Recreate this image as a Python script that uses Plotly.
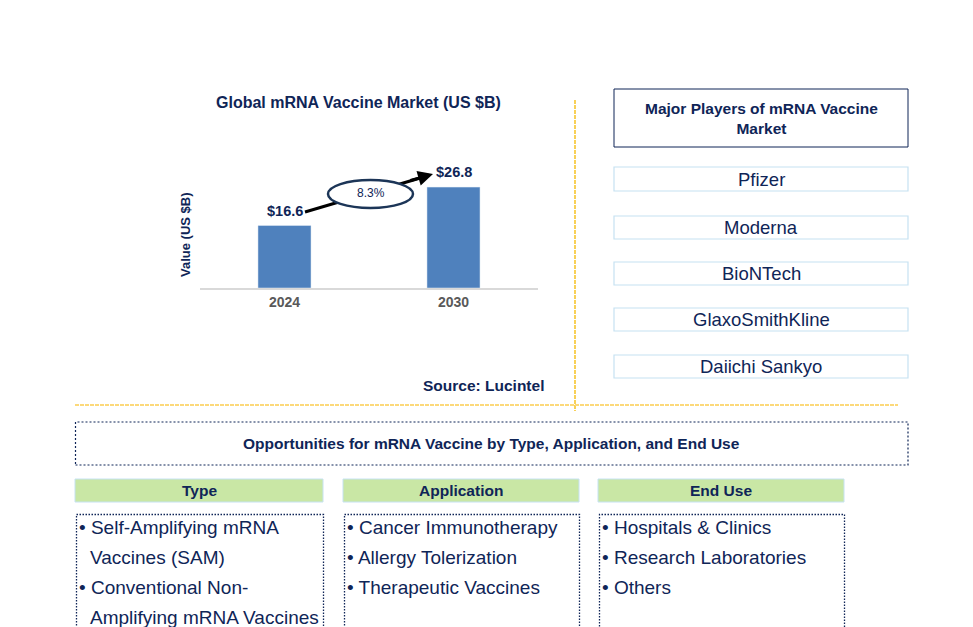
import plotly.graph_objects as go

# ---------------- data ----------------
years = ["2024", "2030"]
values = [16.6, 26.8]
value_labels = ["$16.6", "$26.8"]
cagr = "8.3%"
chart_title = "Global mRNA Vaccine Market (US $B)"
y_title = "Value (US $B)"
source = "Source: Lucintel"
players_title = "Major Players of mRNA Vaccine<br>Market"
players = ["Pfizer", "Moderna", "BioNTech", "GlaxoSmithKline", "Daiichi Sankyo"]
opp_title = "Opportunities for mRNA Vaccine by Type, Application, and End Use"
seg_titles = ["Type", "Application", "End Use"]
seg_items = [
    [["Self-Amplifying mRNA", "Vaccines (SAM)"], ["Conventional Non-", "Amplifying mRNA Vaccines"]],
    [["Cancer Immunotherapy"], ["Allergy Tolerization"], ["Therapeutic Vaccines"]],
    [["Hospitals & Clinics"], ["Research Laboratories"], ["Others"]],
]

# ---------------- style ----------------
OFF = 8                      # page body margin offset
W, H = 973 - OFF, 627 - OFF  # figure size
NAVY = "#0f2557"
BAR = "#4f81bd"
GOLD = "#f5b800"
GOLD_L = "#fcd97a"
LBLUE = "#c6e2f2"
GREEN = "#c9e7a5"
FONT = "Liberation Sans, Arial, sans-serif"


def px(x):
    return (x - OFF) / W


def py(y):
    return 1 - (y - OFF) / H


fig = go.Figure()
fig.add_trace(go.Bar(x=years, y=values, marker_color=BAR, width=0.314,
                     hoverinfo="skip"))

shapes = []
annotations = []


def text(x, y, s, size, bold=False, color=NAVY, xanchor="center", **kw):
    annotations.append(dict(
        x=px(x), y=py(y), xref="paper", yref="paper", showarrow=False,
        text=f"<b>{s}</b>" if bold else s, xanchor=xanchor, yanchor="middle",
        font=dict(family=FONT, size=size, color=color), **kw))


def rect(x0, y0, x1, y1, line_color, width=1, dash="solid", fill="rgba(0,0,0,0)"):
    shapes.append(dict(type="rect", xref="paper", yref="paper",
                       x0=px(x0), x1=px(x1), y0=py(y1), y1=py(y0),
                       line=dict(color=line_color, width=width, dash=dash),
                       fillcolor=fill, layer="above"))


# chart title and axis title
text(358, 102, chart_title, 16, bold=True)
text(185, 235, y_title, 13, bold=True, textangle=-90)

# value labels above bars (data coordinates; category serial numbers)
for i, (v, lab) in enumerate(zip(values, value_labels)):
    annotations.append(dict(x=i, y=v, xref="x", yref="y", showarrow=False,
                            text=f"<b>{lab}</b>", yanchor="bottom", yshift=5,
                            font=dict(family=FONT, size=14.5, color=NAVY)))

# CAGR arrow: line, ellipse over it, arrow head
tail = (305, 212)
head = (433, 174)
shapes.append(dict(type="line", xref="paper", yref="paper",
                   x0=px(tail[0]), y0=py(tail[1]), x1=px(head[0] - 6), y1=py(head[1] + 2),
                   line=dict(color="black", width=3), layer="above"))
shapes.append(dict(type="circle", xref="paper", yref="paper",
                   x0=px(328), x1=px(413), y0=py(208), y1=py(180),
                   line=dict(color="#1c3557", width=2.5), fillcolor="white", layer="above"))
annotations.append(dict(x=px(head[0]), y=py(head[1]), xref="paper", yref="paper",
                        ax=-24, ay=7, showarrow=True, arrowhead=2, arrowsize=1,
                        arrowwidth=3, arrowcolor="black", text=""))
text(371, 193, cagr, 12)

# source
text(546, 385, source, 15.5, bold=True, xanchor="right")

# separators
shapes.append(dict(type="line", xref="paper", yref="paper", x0=px(575), x1=px(575),
                   y0=py(100), y1=py(411), line=dict(color=GOLD, width=1.3, dash="4px,1px")))
shapes.append(dict(type="line", xref="paper", yref="paper", x0=px(75), x1=px(898),
                   y0=py(405), y1=py(405), line=dict(color=GOLD_L, width=2, dash="4px,1px")))

# major players
rect(614, 89, 908, 147, NAVY, 1)
text(761, 118, players_title, 15.5, bold=True)
player_boxes = [(167, 191), (216, 239), (262, 285), (308, 331), (355, 378)]
for name, (t, b) in zip(players, player_boxes):
    rect(614, t, 908, b, LBLUE, 1.2)
    text(761, (t + b) / 2, name, 18.5)

# opportunities
rect(75.5, 422, 908, 465, NAVY, 1.2, "2px,2px")
text(492, 443, opp_title, 15.5, bold=True)

seg_x = [(75, 323), (343, 579), (598, 844)]
for (x0, x1), title, items in zip(seg_x, seg_titles, seg_items):
    rect(x0, 479, x1, 502, LBLUE, 1, fill=GREEN)
    text((x0 + x1) / 2, 490.5, title, 15.5, bold=True)
    rect(x0 + 1.5, 514.5, x1 + 0.5, 640, NAVY, 1.3, "1.5px,1.5px")
    line_y = 527
    for item in items:
        for i, ln in enumerate(item):
            if i == 0:
                text(x0 + 2, line_y, "• " + ln, 19, xanchor="left")
            else:
                text(x0 + 13, line_y, ln, 19, xanchor="left")
            line_y += 30

fig.update_layout(
    width=W, height=H, margin=dict(l=0, r=0, t=0, b=0),
    paper_bgcolor="white", plot_bgcolor="white", showlegend=False,
    shapes=shapes, annotations=annotations,
    xaxis=dict(domain=[px(200), px(538)], type="category", range=[-0.5, 1.5],
               showline=True, linecolor="#d9d9d9", linewidth=1.5, ticks="",
               showgrid=False, zeroline=False,
               tickfont=dict(family=FONT, size=14, color="#595959", weight="bold")),
    yaxis=dict(domain=[py(288), py(160)], range=[0, 34], visible=False,
               showgrid=False, zeroline=False),
)

fig.write_html("out.html")
